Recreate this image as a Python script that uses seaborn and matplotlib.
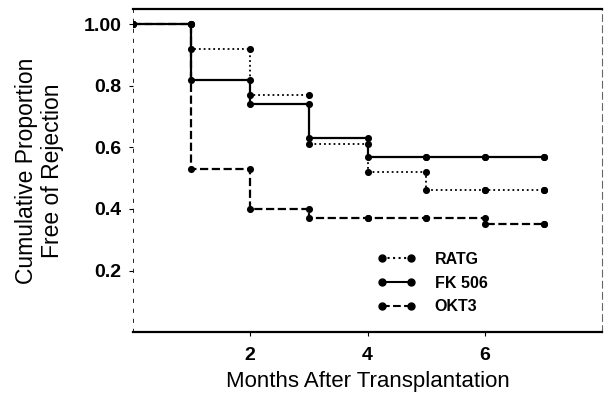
import matplotlib
matplotlib.use("Agg")
import matplotlib.pyplot as plt
import seaborn as sns
import pandas as pd
import numpy as np

# ===== data (months 0..7) =====
months = [0, 1, 2, 3, 4, 5, 6, 7]
ratg = [1.00, 0.92, 0.77, 0.61, 0.52, 0.46, 0.46, 0.46]
fk506 = [1.00, 0.82, 0.74, 0.63, 0.57, 0.57, 0.57, 0.57]
okt3 = [1.00, 0.53, 0.40, 0.37, 0.37, 0.37, 0.35, 0.35]

series = {"RATG": ratg, "FK 506": fk506, "OKT3": okt3}
styles = {"RATG": ":", "FK 506": "-", "OKT3": "--"}

ytick_vals = [0.2, 0.4, 0.6, 0.8, 1.0]
ytick_labels = ["0.2", "0.4", "0.6", "0.8", "1.00"]
xtick_vals = [2, 4, 6]

sns.set_style("white", {"text.color": "black", "axes.labelcolor": "black",
                        "xtick.color": "black", "ytick.color": "black"})
plt.rcParams["font.family"] = ["Liberation Sans", "DejaVu Sans"]

fig = plt.figure(figsize=(6.12, 4.03), dpi=100)
ax = fig.add_axes([0.217, 0.176, 0.767, 0.802])

for name, vals in series.items():
    df = pd.DataFrame({"month": months, "p": vals})
    sns.lineplot(data=df, x="month", y="p", ax=ax, color="black",
                 linestyle=styles[name], linewidth=1.6 if name != "RATG" else 1.3,
                 drawstyle="steps-post", label=None)
    # markers at both ends of every drop
    px, py = [], []
    for i, m in enumerate(months):
        if i > 0:
            px.append(m); py.append(vals[i - 1])
        px.append(m); py.append(vals[i])
    sns.scatterplot(x=px, y=py, ax=ax, color="black", s=26, edgecolor="black",
                    linewidth=0, zorder=3)

handles = [plt.Line2D([0], [0], color="black", linestyle=styles[n], linewidth=1.5,
                      marker="o", markersize=5) for n in series]
ax.legend(handles, list(series.keys()), numpoints=2, frameon=False,
          loc="lower left", bbox_to_anchor=(0.49, 0.01), fontsize=11.5,
          handlelength=2.4, labelspacing=0.55, handletextpad=1.2)
for t in ax.get_legend().get_texts():
    t.set_fontweight("bold")

ax.set_xlim(0, 8)
ax.set_ylim(0, 1.05)
ax.set_xticks(xtick_vals)
ax.set_xticklabels([str(v) for v in xtick_vals], fontsize=14, fontweight="bold")
ax.set_yticks(ytick_vals)
ax.set_yticklabels(ytick_labels, fontsize=14, fontweight="bold")
ax.tick_params(axis="both", direction="out", length=3, width=0.8, color="black",
               left=True, bottom=True, pad=8)
ax.tick_params(axis="y", pad=5)

ax.spines["top"].set_linewidth(1.6)
ax.spines["bottom"].set_linewidth(1.6)
ax.spines["left"].set_linewidth(0.6)
ax.spines["left"].set_linestyle((0, (4, 8)))
ax.spines["right"].set_linewidth(0.8)
ax.spines["right"].set_linestyle((0, (6, 4)))
ax.spines["right"].set_alpha(0.6)
for s in ax.spines.values():
    s.set_color("black")

ax.set_xlabel("Months After Transplantation", fontsize=16, labelpad=5)
ax.set_ylabel("Cumulative Proportion\nFree of Rejection", fontsize=16.5, labelpad=14)

fig.savefig("out.png", dpi=100)
